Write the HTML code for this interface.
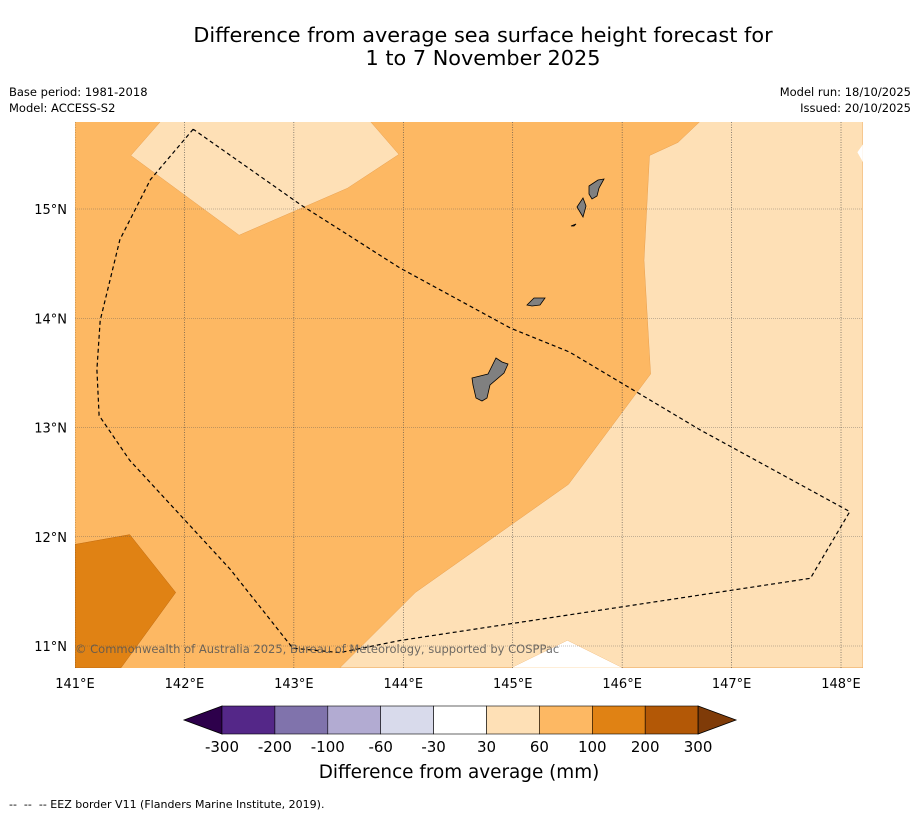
<!DOCTYPE html>
<html><head><meta charset="utf-8"><style>
body{margin:0;background:#fff;width:919px;height:816px;overflow:hidden;font-family:"Liberation Sans","DejaVu Sans",sans-serif}
</style></head><body>
<svg width="919" height="816" viewBox="0 0 919 816" xmlns="http://www.w3.org/2000/svg" font-family="DejaVu Sans, Liberation Sans, sans-serif">
<text x="483" y="42" font-size="20.8" text-anchor="middle">Difference from average sea surface height forecast for</text>
<text x="483" y="65" font-size="20.8" text-anchor="middle">1 to 7 November 2025</text>
<text x="9" y="96" font-size="11.5">Base period: 1981-2018</text>
<text x="9" y="112" font-size="11.5">Model: ACCESS-S2</text>
<text x="911" y="96" font-size="11.5" text-anchor="end">Model run: 18/10/2025</text>
<text x="911" y="112" font-size="11.5" text-anchor="end">Issued: 20/10/2025</text>
<defs><clipPath id="mapclip"><rect x="75" y="122" width="788" height="546"/></clipPath></defs>
<g id="map" clip-path="url(#mapclip)"></g>
<g id="axes"></g>
<g id="cbar"></g>
<text x="459" y="778" font-size="18.4" text-anchor="middle">Difference from average (mm)</text>
<text x="9" y="808" font-size="11" style="white-space:pre" xml:space="preserve">--  --  -- EEZ border V11 (Flanders Marine Institute, 2019).</text>
</svg>
<script>
const lonTicks=[141,142,143,144,145,146,147,148];
const latTicks=[11,12,13,14,15];
const lightTLLon=[141.78,141.51,142.50,143.49,143.96,143.70];
const lightTLLat=[15.80,15.49,14.76,15.19,15.50,15.80];
const lightRLon=[146.71,146.51,146.25,146.20,146.26,145.51,144.11,143.42,144.99,145.50,146.0,148.2,148.2];
const lightRLat=[15.80,15.61,15.49,14.53,13.49,12.48,11.49,10.80,10.80,11.05,10.80,10.80,15.80];
const darkLon=[141,141.50,141.92,141.42,141];
const darkLat=[11.93,12.02,11.49,10.80,10.80];
const whiteEdgeLon=[148.2,148.15,148.2];
const whiteEdgeLat=[15.59,15.52,15.43];
const eezLon=[142.08,141.69,141.41,141.23,141.20,141.22,141.50,142.42,142.99,143.42,143.97,147.72,148.08,146.71,145.52,144.98,143.97,143.06,142.08];
const eezLat=[15.73,15.27,14.72,13.98,13.53,13.11,12.70,11.70,10.98,10.94,11.05,11.62,12.23,12.98,13.69,13.91,14.46,15.04,15.73];
const cbLabels=["-300","-200","-100","-60","-30","30","60","100","200","300"];
const cbColors=["#542788","#8073ac","#b2abd2","#d8daeb","#ffffff","#fee0b6","#fdb863","#e08214","#b35806"];
const NS="http://www.w3.org/2000/svg";
function X(lon){return 75+(lon-141)*109.43;}
function Y(lat){return 209-(lat-15)*109.25;}
function mk(t,a,p){const e=document.createElementNS(NS,t);for(const k in a)e.setAttribute(k,a[k]);p.appendChild(e);return e;}
function pts(lo,la){return lo.map((v,i)=>X(v).toFixed(1)+","+Y(la[i]).toFixed(1)).join(" ");}
const map=document.getElementById('map');
let r=mk('rect',{x:75,y:122,width:788,height:546,fill:'#fdb863'},map);


let p=mk('polygon',{points:pts(lightRLon,lightRLat),fill:'#fee0b6',stroke:'#e8a050','stroke-width':0.5},map);


p=mk('polygon',{points:pts([144.99,145.50,146.0],[10.80,11.05,10.80]),fill:'#fff'},map);


p=mk('polygon',{points:pts(whiteEdgeLon,whiteEdgeLat),fill:'#fff'},map);


p=mk('polygon',{points:pts(lightTLLon,lightTLLat),fill:'#fee0b6',stroke:'#e8a050','stroke-width':0.5},map);


p=mk('polygon',{points:pts(darkLon,darkLat),fill:'#e08214',stroke:'#c06a10','stroke-width':0.5},map);


lonTicks.forEach(v=>{const l=mk('line',{x1:X(v),x2:X(v),y1:122,y2:668,stroke:'#444','stroke-width':0.6,'stroke-dasharray':'1,1.5'},map);

});
latTicks.forEach(v=>{const l=mk('line',{x1:75,x2:863,y1:Y(v),y2:Y(v),stroke:'#555','stroke-width':0.6,'stroke-dasharray':'1,1','opacity':0.7},map);

});
const isl=["M472,378 L488,374 L496,358 L502,362 L508,364 L504,373 L490,385 L487,398 L482,401 L476,398 L473,385 Z",
"M527,305 L534,298 L545,298 L540,305 L532,306 Z",
"M577,207 L583,198 L586,206 L583,217 Z",
"M589,186 L598,180 L604,179 L599,188 L597,196 L592,199 L589,194 Z",
"M571,226 L576,224 L574,226 Z"];
isl.forEach(d=>{const e=mk('path',{d:d,fill:'#808080',stroke:'#000','stroke-width':0.8},map);

});
p=mk('polyline',{points:pts(eezLon,eezLat),fill:'none',stroke:'#000','stroke-width':1.2,'stroke-dasharray':'4,3'},map);


let t=mk('text',{x:75,y:653,'font-size':11.5,fill:'#555','opacity':0.85},map);
t.textContent="© Commonwealth of Australia 2025, Bureau of Meteorology, supported by COSPPac";


const ax=document.getElementById('axes');
lonTicks.forEach(v=>{const e=mk('text',{x:X(v),y:688,'font-size':13,'text-anchor':'middle'},ax);e.textContent=v+"°E";

});
latTicks.forEach(v=>{const e=mk('text',{x:67,y:Y(v)+5,'font-size':13,'text-anchor':'end'},ax);e.textContent=v+"°N";

});
const cb=document.getElementById('cbar');
const bx=222,bw=52.9,by=706,bh=28;
let e=mk('polygon',{points:`${bx},${by} 184,${by+bh/2} ${bx},${by+bh}`,fill:'#2d004b',stroke:'#000','stroke-width':0.8},cb);


cbColors.forEach((c,i)=>{const q=mk('rect',{x:bx+i*bw,y:by,width:bw,height:bh,fill:c,stroke:'#000','stroke-width':0.6},cb);

});
const ex=bx+cbColors.length*bw;
e=mk('polygon',{points:`${ex},${by} 736,${by+bh/2} ${ex},${by+bh}`,fill:'#7f3b08',stroke:'#000','stroke-width':0.8},cb);


cbLabels.forEach((s,i)=>{const q=mk('text',{x:bx+i*bw,y:752,'font-size':15,'text-anchor':'middle'},cb);q.textContent=s;

});
</script>
</body></html>
